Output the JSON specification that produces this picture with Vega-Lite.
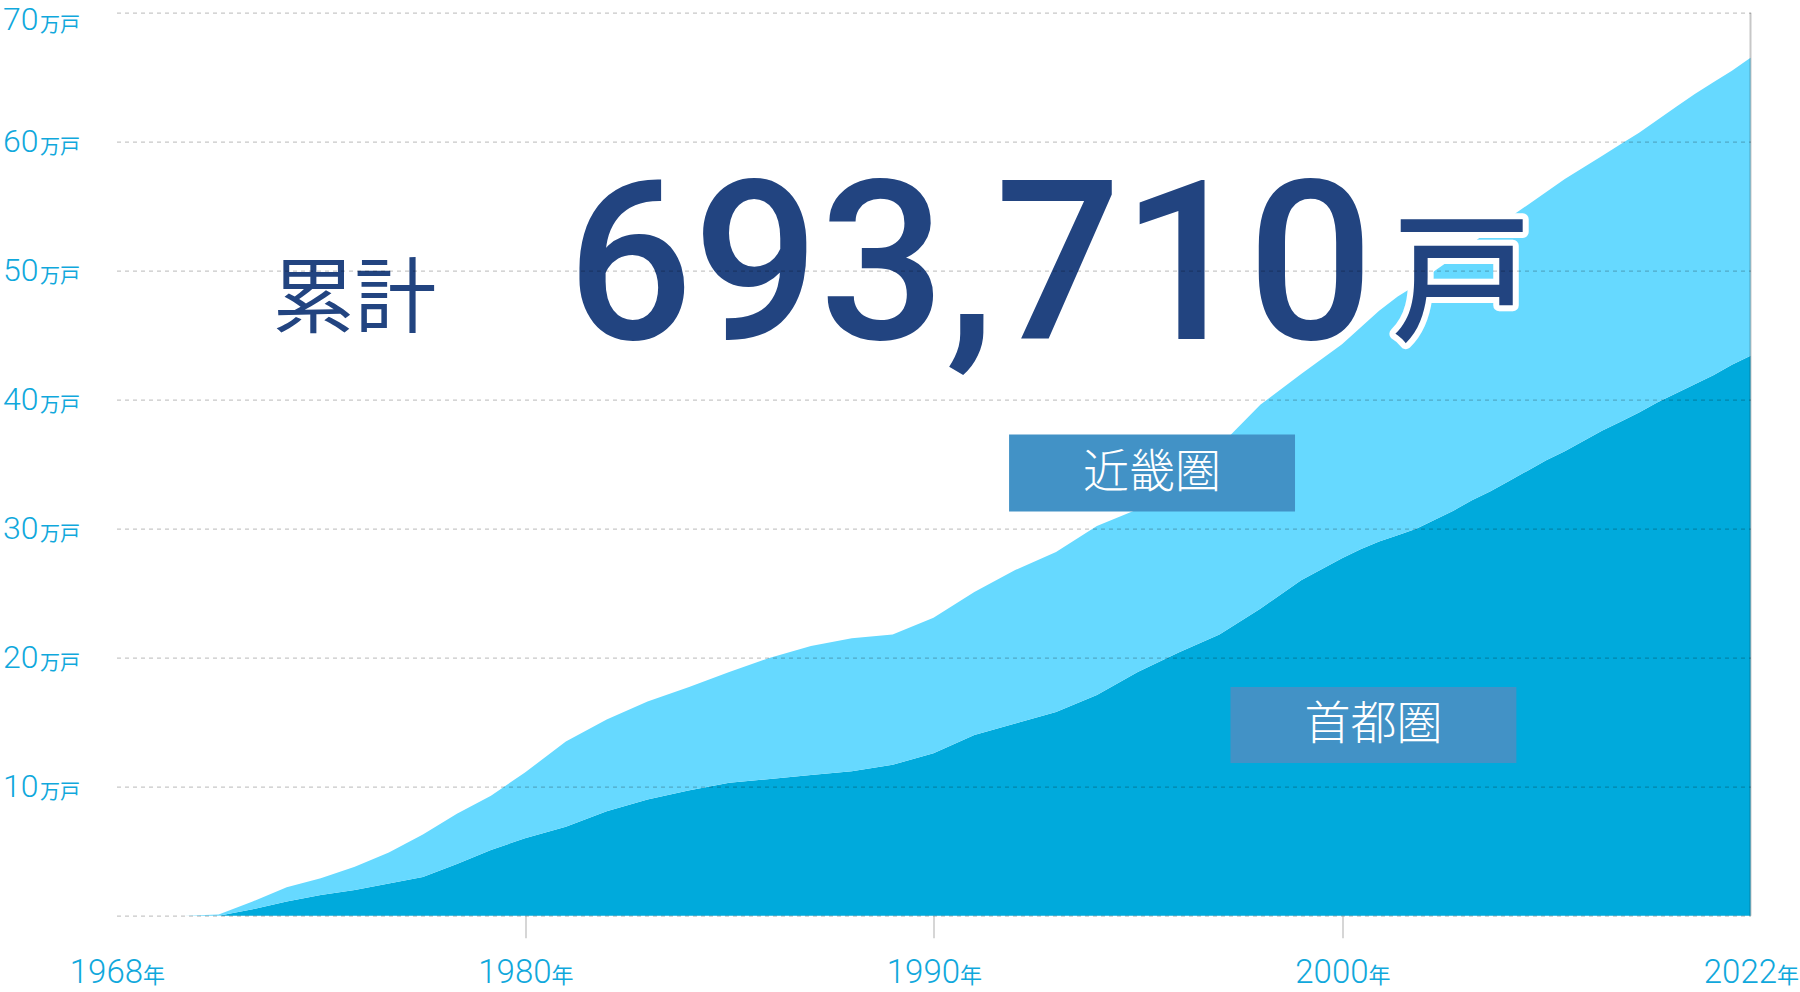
{
  "$schema": "https://vega.github.io/schema/vega-lite/v6.json",
  "width": 1634,
  "height": 903,
  "autosize": {"type": "none"},
  "padding": {"left": 116.5, "top": 12.7, "right": 49.5, "bottom": 76.3},
  "background": "white",
  "config": {"view": {"stroke": null}},
  "resolve": {"axis": {"x": "independent", "y": "independent"}},
  "layer": [
    {
      "data": {"values": [
        {"year": 1968, "region": "首都圏", "value": 0}, {"year": 1968, "region": "近畿圏", "value": 0},
        {"year": 1969, "region": "首都圏", "value": 0}, {"year": 1969, "region": "近畿圏", "value": 0},
        {"year": 1970, "region": "首都圏", "value": 0}, {"year": 1970, "region": "近畿圏", "value": 0},
        {"year": 1971, "region": "首都圏", "value": 0}, {"year": 1971, "region": "近畿圏", "value": 0.1},
        {"year": 1972, "region": "首都圏", "value": 0.5}, {"year": 1972, "region": "近畿圏", "value": 0.6},
        {"year": 1973, "region": "首都圏", "value": 1.1}, {"year": 1973, "region": "近畿圏", "value": 1.1},
        {"year": 1974, "region": "首都圏", "value": 1.6}, {"year": 1974, "region": "近畿圏", "value": 1.3},
        {"year": 1975, "region": "首都圏", "value": 2.0}, {"year": 1975, "region": "近畿圏", "value": 1.8},
        {"year": 1976, "region": "首都圏", "value": 2.5}, {"year": 1976, "region": "近畿圏", "value": 2.4},
        {"year": 1977, "region": "首都圏", "value": 3.0}, {"year": 1977, "region": "近畿圏", "value": 3.3},
        {"year": 1978, "region": "首都圏", "value": 4.0}, {"year": 1978, "region": "近畿圏", "value": 3.9},
        {"year": 1979, "region": "首都圏", "value": 5.1}, {"year": 1979, "region": "近畿圏", "value": 4.2},
        {"year": 1980, "region": "首都圏", "value": 6.0}, {"year": 1980, "region": "近畿圏", "value": 5.1},
        {"year": 1981, "region": "首都圏", "value": 6.9}, {"year": 1981, "region": "近畿圏", "value": 6.6},
        {"year": 1982, "region": "首都圏", "value": 8.1}, {"year": 1982, "region": "近畿圏", "value": 7.1},
        {"year": 1983, "region": "首都圏", "value": 9.0}, {"year": 1983, "region": "近畿圏", "value": 7.6},
        {"year": 1984, "region": "首都圏", "value": 9.7}, {"year": 1984, "region": "近畿圏", "value": 8.0},
        {"year": 1985, "region": "首都圏", "value": 10.3}, {"year": 1985, "region": "近畿圏", "value": 8.6},
        {"year": 1986, "region": "首都圏", "value": 10.6}, {"year": 1986, "region": "近畿圏", "value": 9.4},
        {"year": 1987, "region": "首都圏", "value": 10.9}, {"year": 1987, "region": "近畿圏", "value": 10.0},
        {"year": 1988, "region": "首都圏", "value": 11.2}, {"year": 1988, "region": "近畿圏", "value": 10.3},
        {"year": 1989, "region": "首都圏", "value": 11.7}, {"year": 1989, "region": "近畿圏", "value": 10.1},
        {"year": 1990, "region": "首都圏", "value": 12.6}, {"year": 1990, "region": "近畿圏", "value": 10.5},
        {"year": 1991, "region": "首都圏", "value": 14.0}, {"year": 1991, "region": "近畿圏", "value": 11.1},
        {"year": 1992, "region": "首都圏", "value": 14.9}, {"year": 1992, "region": "近畿圏", "value": 11.9},
        {"year": 1993, "region": "首都圏", "value": 15.8}, {"year": 1993, "region": "近畿圏", "value": 12.4},
        {"year": 1994, "region": "首都圏", "value": 17.1}, {"year": 1994, "region": "近畿圏", "value": 13.1},
        {"year": 1995, "region": "首都圏", "value": 18.9}, {"year": 1995, "region": "近畿圏", "value": 12.6},
        {"year": 1996, "region": "首都圏", "value": 20.4}, {"year": 1996, "region": "近畿圏", "value": 13.0},
        {"year": 1997, "region": "首都圏", "value": 21.8}, {"year": 1997, "region": "近畿圏", "value": 14.6},
        {"year": 1998, "region": "首都圏", "value": 23.8}, {"year": 1998, "region": "近畿圏", "value": 15.8},
        {"year": 1999, "region": "首都圏", "value": 26.0}, {"year": 1999, "region": "近畿圏", "value": 16.0},
        {"year": 2000, "region": "首都圏", "value": 27.7}, {"year": 2000, "region": "近畿圏", "value": 16.6},
        {"year": 2001, "region": "首都圏", "value": 28.4}, {"year": 2001, "region": "近畿圏", "value": 17.2},
        {"year": 2002, "region": "首都圏", "value": 29.0}, {"year": 2002, "region": "近畿圏", "value": 17.9},
        {"year": 2003, "region": "首都圏", "value": 29.5}, {"year": 2003, "region": "近畿圏", "value": 18.5},
        {"year": 2004, "region": "首都圏", "value": 30.0}, {"year": 2004, "region": "近畿圏", "value": 18.9},
        {"year": 2005, "region": "首都圏", "value": 30.7}, {"year": 2005, "region": "近畿圏", "value": 19.3},
        {"year": 2006, "region": "首都圏", "value": 31.4}, {"year": 2006, "region": "近畿圏", "value": 19.6},
        {"year": 2007, "region": "首都圏", "value": 32.2}, {"year": 2007, "region": "近畿圏", "value": 19.9},
        {"year": 2008, "region": "首都圏", "value": 32.9}, {"year": 2008, "region": "近畿圏", "value": 20.3},
        {"year": 2009, "region": "首都圏", "value": 33.7}, {"year": 2009, "region": "近畿圏", "value": 20.4},
        {"year": 2010, "region": "首都圏", "value": 34.5}, {"year": 2010, "region": "近畿圏", "value": 20.6},
        {"year": 2011, "region": "首都圏", "value": 35.3}, {"year": 2011, "region": "近畿圏", "value": 20.8},
        {"year": 2012, "region": "首都圏", "value": 36.0}, {"year": 2012, "region": "近畿圏", "value": 21.1},
        {"year": 2013, "region": "首都圏", "value": 36.8}, {"year": 2013, "region": "近畿圏", "value": 21.2},
        {"year": 2014, "region": "首都圏", "value": 37.6}, {"year": 2014, "region": "近畿圏", "value": 21.3},
        {"year": 2015, "region": "首都圏", "value": 38.3}, {"year": 2015, "region": "近畿圏", "value": 21.5},
        {"year": 2016, "region": "首都圏", "value": 39.0}, {"year": 2016, "region": "近畿圏", "value": 21.7},
        {"year": 2017, "region": "首都圏", "value": 39.8}, {"year": 2017, "region": "近畿圏", "value": 21.9},
        {"year": 2018, "region": "首都圏", "value": 40.5}, {"year": 2018, "region": "近畿圏", "value": 22.2},
        {"year": 2019, "region": "首都圏", "value": 41.2}, {"year": 2019, "region": "近畿圏", "value": 22.5},
        {"year": 2020, "region": "首都圏", "value": 41.9}, {"year": 2020, "region": "近畿圏", "value": 22.7},
        {"year": 2021, "region": "首都圏", "value": 42.7}, {"year": 2021, "region": "近畿圏", "value": 22.8},
        {"year": 2022, "region": "首都圏", "value": 43.4}, {"year": 2022, "region": "近畿圏", "value": 23.1}
      ]},
      "mark": {"type": "area", "interpolate": "linear"},
      "encoding": {
        "x": {
          "field": "year", "type": "quantitative",
          "scale": {"domain": [1968, 1980, 1990, 2000, 2022], "range": [0, 408.5, 817, 1225.5, 1634], "nice": false, "zero": false},
          "axis": {
            "orient": "bottom", "title": null, "values": [1968, 1980, 1990, 2000, 2022], "format": "d",
            "grid": false, "ticks": false, "tickSize": 0, "domain": false,
            "labelAlign": "right", "labelOffset": 26, "labelBaseline": "alphabetic", "labelPadding": 67,
            "labelFont": "Roboto", "labelFontWeight": 300, "labelFontSize": 33, "labelColor": "#10a8dc",
            "labelFlush": false, "labelOverlap": false, "labelBound": false
          }
        },
        "y": {
          "field": "value", "type": "quantitative", "stack": "zero",
          "scale": {"domain": [0, 70], "nice": false},
          "axis": {
            "orient": "left", "title": null, "values": [0, 10, 20, 30, 40, 50, 60, 70],
            "labelExpr": "datum.value == 0 ? '' : datum.label", "format": "d",
            "grid": true, "gridDash": [4, 4], "gridColor": "black", "gridOpacity": 0.22, "gridWidth": 1.3,
            "ticks": false, "tickSize": 0, "domain": false, "zindex": 1,
            "labelAlign": "right", "labelBaseline": "middle", "labelPadding": 78.5,
            "labelOffset": {"condition": {"test": "datum.value == 70", "value": 7}, "value": 0},
            "labelFont": "Roboto", "labelFontWeight": 300, "labelFontSize": 32, "labelColor": "#10a8dc",
            "labelFlush": false, "labelOverlap": false
          }
        },
        "color": {
          "field": "region", "type": "nominal",
          "scale": {"domain": ["首都圏", "近畿圏"], "range": ["#00aadc", "#66d9ff"]},
          "legend": null
        },
        "order": {"field": "region", "sort": "descending"}
      }
    },
    {
      "data": {"values": [{}]},
      "mark": {"type": "rule", "color": "black", "opacity": 0.22, "strokeWidth": 2},
      "encoding": {
        "x": {
          "datum": 2022, "type": "quantitative",
          "axis": {
            "orient": "bottom", "title": null, "values": [1968, 1980, 1990, 2000, 2022],
            "labelExpr": "'年'", "grid": false, "ticks": false, "tickSize": 0, "domain": false,
            "labelAlign": "left", "labelOffset": 26, "labelBaseline": "alphabetic", "labelPadding": 67,
            "labelFont": "Noto Sans CJK JP", "labelFontSize": 22, "labelColor": "#10a8dc",
            "labelFlush": false, "labelOverlap": false, "labelBound": false
          }
        },
        "y": {
          "datum": 0, "type": "quantitative",
          "axis": {
            "orient": "left", "title": null, "values": [10, 20, 30, 40, 50, 60, 70],
            "labelExpr": "'万戸'", "grid": false, "ticks": false, "tickSize": 0, "domain": false,
            "labelAlign": "left", "labelBaseline": "alphabetic", "labelPadding": 77,
            "labelOffset": {"condition": {"test": "datum.value == 70", "value": 19}, "value": 12},
            "labelFont": "Noto Sans CJK JP", "labelFontSize": 20, "labelColor": "#10a8dc",
            "labelFlush": false, "labelOverlap": false
          }
        },
        "y2": {"datum": 70}
      }
    },
    {
      "data": {"values": [{}]},
      "mark": {"type": "rect", "color": "#4292c6"},
      "encoding": {
        "x": {
          "datum": 1991.85, "type": "quantitative",
          "axis": {
            "orient": "bottom", "title": null, "values": [1980, 1990, 2000], "labels": false,
            "grid": false, "ticks": true, "tickSize": 22, "tickColor": "#c8c8c8", "tickWidth": 1.5, "domain": false
          }
        },
        "x2": {"datum": 1998.85},
        "y": {"datum": 37.31, "type": "quantitative", "axis": null},
        "y2": {"datum": 31.34}
      }
    },
    {
      "data": {"values": [{}]},
      "mark": {"type": "rect", "color": "#4292c6"},
      "encoding": {
        "x": {"datum": 1997.27, "type": "quantitative", "axis": null},
        "x2": {"datum": 2009.39},
        "y": {"datum": 17.72, "type": "quantitative", "axis": null},
        "y2": {"datum": 11.84}
      }
    },
    {
      "data": {"values": [{}]},
      "mark": {"type": "text", "text": "近畿圏", "font": "Noto Sans CJK JP", "fontSize": 46, "fontWeight": 300, "color": "white", "align": "center", "baseline": "middle"},
      "encoding": {
        "x": {"datum": 1995.35, "type": "quantitative", "axis": null},
        "y": {"datum": 34.33, "type": "quantitative", "axis": null}
      }
    },
    {
      "data": {"values": [{}]},
      "mark": {"type": "text", "text": "首都圏", "font": "Noto Sans CJK JP", "fontSize": 46, "fontWeight": 300, "color": "white", "align": "center", "baseline": "middle"},
      "encoding": {
        "x": {"datum": 2001.7, "type": "quantitative", "axis": null},
        "y": {"datum": 14.78, "type": "quantitative", "axis": null}
      }
    },
    {
      "data": {"values": [{}]},
      "mark": {"type": "text", "text": "693,710", "font": "Roboto", "fontSize": 222, "fontWeight": 500, "fill": "white", "stroke": "white", "strokeWidth": 12, "strokeJoin": "round", "align": "center", "baseline": "alphabetic"},
      "encoding": {
        "x": {"datum": 1990.9, "type": "quantitative", "axis": null},
        "y": {"datum": 44.7, "type": "quantitative", "axis": null}
      }
    },
    {
      "data": {"values": [{}]},
      "mark": {"type": "text", "text": "戸", "font": "Noto Sans CJK JP", "fontSize": 140, "fontWeight": 500, "fill": "white", "stroke": "white", "strokeWidth": 12, "strokeJoin": "round", "align": "left", "baseline": "alphabetic"},
      "encoding": {
        "x": {"datum": 2002.66, "type": "quantitative", "axis": null},
        "y": {"datum": 45.4, "type": "quantitative", "axis": null}
      }
    },
    {
      "data": {"values": [{}]},
      "mark": {"type": "text", "text": "累計", "font": "Noto Sans CJK JP", "fontSize": 82, "fontWeight": 400, "fill": "#224480", "align": "right", "baseline": "alphabetic"},
      "encoding": {
        "x": {"datum": 1977.4, "type": "quantitative", "axis": null},
        "y": {"datum": 45.7, "type": "quantitative", "axis": null}
      }
    },
    {
      "data": {"values": [{}]},
      "mark": {"type": "text", "text": "693,710", "font": "Roboto", "fontSize": 222, "fontWeight": 500, "fill": "#224480", "align": "center", "baseline": "alphabetic"},
      "encoding": {
        "x": {"datum": 1990.9, "type": "quantitative", "axis": null},
        "y": {"datum": 44.7, "type": "quantitative", "axis": null}
      }
    },
    {
      "data": {"values": [{}]},
      "mark": {"type": "text", "text": "戸", "font": "Noto Sans CJK JP", "fontSize": 140, "fontWeight": 500, "fill": "#224480", "align": "left", "baseline": "alphabetic"},
      "encoding": {
        "x": {"datum": 2002.66, "type": "quantitative", "axis": null},
        "y": {"datum": 45.4, "type": "quantitative", "axis": null}
      }
    }
  ]
}
